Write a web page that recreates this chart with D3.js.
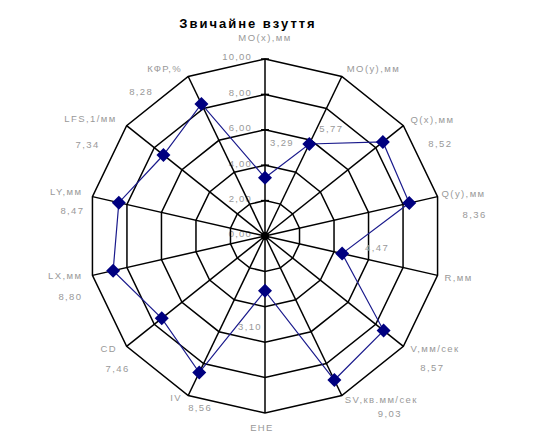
<!DOCTYPE html>
<html>
<head>
<meta charset="utf-8">
<script src="https://cdn.jsdelivr.net/npm/d3@7"></script>
<style>
  html, body { margin: 0; padding: 0; background: #fff; }
  svg { display: block; }
  text { font-family: Arial, "Liberation Sans", sans-serif; }
</style>
</head>
<body>
<svg id="chart" width="545" height="433"></svg>
<script>
// Radar chart: "Звичайне взуття"
const title = "Звичайне взуття";
const axes = ["MO(x),мм", "MO(y),мм", "Q(x),мм", "Q(y),мм", "R,мм", "V,мм/сек",
  "SV,кв.мм/сек", "EHE", "IV", "CD", "LX,мм", "LY,мм", "LFS,1/мм", "КФР,%"];
const values = [3.29, 5.77, 8.52, 8.36, 4.47, 8.57, 9.03, 3.10, 8.56, 7.46, 8.80, 8.47, 7.34, 8.28];
const ticks = [0, 2, 4, 6, 8, 10];
const tickLabels = ["0,00", "2,00", "4,00", "6,00", "8,00", "10,00"];

const svg = d3.select("#chart");
const cx = 265, cy = 236, R = 177;

const r = d3.scaleLinear().domain([0, 10]).range([0, R]);
const angle = d3.scaleLinear().domain([0, axes.length]).range([0, 2 * Math.PI]);
const pt = (i, v) => [cx + Math.sin(angle(i)) * r(v), cy - Math.cos(angle(i)) * r(v)];
const fmt = v => d3.format(".2f")(v).replace(".", ",");

const g = svg.append("g");
const textGrey = "#999";

// scale labels along the top spoke
g.selectAll("text.tick").data(ticks).join("text")
  .attr("class", "tick")
  .attr("x", cx - 13)
  .attr("y", d => cy - r(d) - 2)
  .attr("dy", "0.35em")
  .attr("text-anchor", "end")
  .attr("font-size", 9.5)
  .attr("letter-spacing", 1.2)
  .attr("fill", textGrey)
  .text((d, i) => tickLabels[i]);

// polygon rings
const ring = d3.line();
g.selectAll("path.ring").data(ticks.filter(t => t > 0)).join("path")
  .attr("class", "ring")
  .attr("d", t => ring(axes.map((a, i) => pt(i, t))) + "Z")
  .attr("fill", "none")
  .attr("stroke", "#000")
  .attr("stroke-width", 1.5);

// spokes
g.selectAll("line.spoke").data(axes).join("line")
  .attr("class", "spoke")
  .attr("x1", cx).attr("y1", cy)
  .attr("x2", (a, i) => pt(i, 10)[0])
  .attr("y2", (a, i) => pt(i, 10)[1])
  .attr("stroke", "#000")
  .attr("stroke-width", 1.5);

// short tick marks on the top spoke
g.selectAll("line.tm").data(ticks.filter(t => t > 0)).join("line")
  .attr("class", "tm")
  .attr("x1", cx - 4).attr("x2", cx + 4)
  .attr("y1", d => cy - r(d)).attr("y2", d => cy - r(d))
  .attr("stroke", "#000").attr("stroke-width", 1.5);

g.append("circle").attr("cx", cx).attr("cy", cy).attr("r", 4).attr("fill", "#000");

// series
const series = values.map((v, i) => pt(i, v));
g.append("path")
  .attr("d", d3.line()(series) + "Z")
  .attr("fill", "none")
  .attr("stroke", "#1a1a8c")
  .attr("stroke-width", 1.2);

const diamond = 7;
g.selectAll("path.mk").data(series).join("path")
  .attr("class", "mk")
  .attr("d", d => `M${d[0]},${d[1] - diamond}L${d[0] + diamond},${d[1]}L${d[0]},${d[1] + diamond}L${d[0] - diamond},${d[1]}Z`)
  .attr("fill", "#000080");

// axis name placement relative to the outer ring vertex: [anchor, dx, dy]
const nameLayout = {
  0: ["middle", 0, -21], 1: ["start", 5, -8], 2: ["start", 7, -6], 3: ["start", 4, -3],
  4: ["start", 7, 2], 5: ["start", 7, 2], 6: ["start", 3, 4], 7: ["middle", -3, 15],
  8: ["start", -18, 2], 9: ["start", -26, 2], 10: ["end", -10, 0], 11: ["end", -10, -5],
  12: ["end", -10, -7], 13: ["end", -6, -8]
};
// value text offsets: outer ones from the ring vertex, inner ones from the marker
const valueOuter = {
  2: [37, 18], 3: [37, 18], 5: [29, 21], 6: [48, 18], 8: [12, 12], 9: [-9, 22],
  10: [-22, 21], 11: [-20, 14], 12: [-39, 19], 13: [-47, 15]
};
const valueInner = { 0: [17, -35], 1: [22, -15], 4: [35, -6], 7: [-15, 36] };

const labelStyle = sel => sel
  .attr("font-size", 9.5)
  .attr("letter-spacing", 1.4)
  .attr("fill", textGrey)
  .attr("dy", "0.35em");

g.selectAll("text.name").data(axes).join("text")
  .attr("class", "name")
  .attr("x", (a, i) => pt(i, 10)[0] + nameLayout[i][1])
  .attr("y", (a, i) => pt(i, 10)[1] + nameLayout[i][2])
  .attr("text-anchor", (a, i) => nameLayout[i][0])
  .call(labelStyle)
  .text(a => a);

g.selectAll("text.val").data(values).join("text")
  .attr("class", "val")
  .attr("x", (v, i) => valueOuter[i] ? pt(i, 10)[0] + valueOuter[i][0] : series[i][0] + valueInner[i][0])
  .attr("y", (v, i) => valueOuter[i] ? pt(i, 10)[1] + valueOuter[i][1] : series[i][1] + valueInner[i][1])
  .attr("text-anchor", "middle")
  .call(labelStyle)
  .text(v => fmt(v));

svg.append("text")
  .attr("x", 248).attr("y", 28)
  .attr("text-anchor", "middle")
  .attr("font-size", 13)
  .attr("font-weight", "bold")
  .attr("letter-spacing", 2)
  .attr("fill", "#000")
  .text(title);
</script>
</body>
</html>
